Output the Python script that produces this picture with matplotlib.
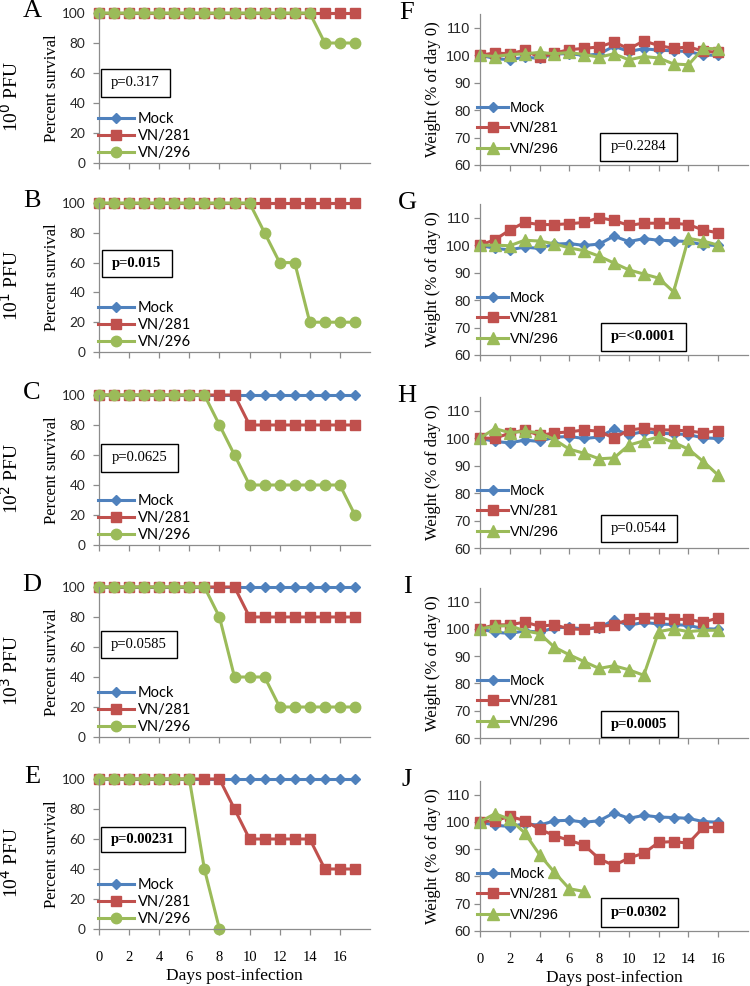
import matplotlib
matplotlib.use("Agg")
import matplotlib.pyplot as plt
from matplotlib.patches import Rectangle

# Data
days_surv = [0, 1, 2, 3, 4, 5, 6, 7, 8, 9, 10, 11, 12, 13, 14, 15, 16, 17]
days_wt = [0, 1, 2, 3, 4, 5, 6, 7, 8, 9, 10, 11, 12, 13, 14, 15, 16]

surv_mock = [100, 100, 100, 100, 100, 100, 100, 100, 100, 100, 100, 100, 100, 100, 100, 100, 100, 100]
surv_A_281 = [100, 100, 100, 100, 100, 100, 100, 100, 100, 100, 100, 100, 100, 100, 100, 100, 100, 100]
surv_A_296 = [100, 100, 100, 100, 100, 100, 100, 100, 100, 100, 100, 100, 100, 100, 100, 80, 80, 80]
surv_B_281 = [100, 100, 100, 100, 100, 100, 100, 100, 100, 100, 100, 100, 100, 100, 100, 100, 100, 100]
surv_B_296 = [100, 100, 100, 100, 100, 100, 100, 100, 100, 100, 100, 80, 60, 60, 20, 20, 20, 20]
surv_C_281 = [100, 100, 100, 100, 100, 100, 100, 100, 100, 100, 80, 80, 80, 80, 80, 80, 80, 80]
surv_C_296 = [100, 100, 100, 100, 100, 100, 100, 100, 80, 60, 40, 40, 40, 40, 40, 40, 40, 20]
surv_D_281 = [100, 100, 100, 100, 100, 100, 100, 100, 100, 100, 80, 80, 80, 80, 80, 80, 80, 80]
surv_D_296 = [100, 100, 100, 100, 100, 100, 100, 100, 80, 40, 40, 40, 20, 20, 20, 20, 20, 20]
surv_E_281 = [100, 100, 100, 100, 100, 100, 100, 100, 100, 80, 60, 60, 60, 60, 60, 40, 40, 40]
surv_E_296 = [100, 100, 100, 100, 100, 100, 100, 40, 0]

wt_mock = [100, 98.8, 98.3, 99.3, 98.8, 100.4, 100.6, 99.9, 100.4, 103.3, 101.3, 102.4, 101.8, 101.6, 101.3, 100.1, 99.9]
wt_F_281 = [100, 100.8, 100.5, 101.8, 99.2, 100.8, 102, 102.5, 103, 104.8, 102.3, 105.2, 103.5, 102.5, 103, 101.5, 101]
wt_F_296 = [100, 99.5, 100.2, 100.5, 101, 100.5, 101, 100.2, 99.3, 100.5, 98.3, 99.5, 99, 96.8, 96.5, 102.5, 102.3]
wt_G_281 = [100, 102, 105.5, 108.3, 107.5, 107.5, 107.8, 108.3, 110, 109, 107.2, 108, 108, 108, 107.5, 105.5, 104.5]
wt_G_296 = [100, 100, 99.8, 101.8, 101.5, 100.5, 99, 98, 96, 93.5, 91, 89.5, 88, 83, 102.5, 101.5, 100]
wt_H_281 = [100, 100, 101.8, 103, 101, 101.9, 102.3, 103, 102.5, 100, 103, 103.6, 103, 103, 102.6, 102, 102.7]
wt_H_296 = [100, 103.5, 102, 102.5, 102, 99.5, 96, 94.5, 92.5, 92.8, 97.5, 99, 100.5, 98.5, 96, 91.5, 86.5]
wt_I_281 = [100, 101.5, 101.5, 102.5, 101, 101.5, 100, 99.8, 100.8, 101.5, 103.5, 104, 104, 103.5, 103.5, 102.5, 104]
wt_I_296 = [100, 101, 101.2, 99.3, 98.3, 93.3, 90.5, 88, 85.5, 86.5, 85, 83, 99, 100, 99, 99.5, 99.5]
wt_J_281 = [100, 100.5, 102, 100.5, 97.3, 95, 93.2, 91.5, 86.5, 84, 86.8, 88.5, 92.5, 92.8, 92.2, 98, 98]
wt_J_296 = [100, 103, 101, 96, 88, 81.5, 75.5, 74.5]

doses = ["10$^0$ PFU", "10$^1$ PFU", "10$^2$ PFU", "10$^3$ PFU", "10$^4$ PFU"]
letters_left = ["A", "B", "C", "D", "E"]
letters_right = ["F", "G", "H", "I", "J"]
p_left = ["p=0.317", "p=0.015", "p=0.0625", "p=0.0585", "p=0.00231"]
p_left_bold = [False, True, False, False, True]
p_right = ["p=0.2284", "p=<0.0001", "p=0.0544", "p=0.0005", "p=0.0302"]
p_right_bold = [False, True, False, True, True]

surv_281 = [surv_A_281, surv_B_281, surv_C_281, surv_D_281, surv_E_281]
surv_296 = [surv_A_296, surv_B_296, surv_C_296, surv_D_296, surv_E_296]
wt_281 = [wt_F_281, wt_G_281, wt_H_281, wt_I_281, wt_J_281]
wt_296 = [wt_F_296, wt_G_296, wt_H_296, wt_I_296, wt_J_296]

# Styling
BLUE = "#4F81BD"
RED = "#C0504D"
GREEN = "#9BBB59"
AXCOL = "#8C8C8C"
SERIF = "Liberation Serif"

W, H = 750, 986
fig = plt.figure(figsize=(W / 100, H / 100), dpi=100)

# axes extents in pixels (top, bottom)
left_rows = [(13, 163), (203, 352), (395, 545), (587, 737), (779, 929)]
right_rows = [(14, 165), (204, 355), (397, 548), (588, 738), (781, 931)]
# p-value boxes in axes fraction (x0, x1, y0, y1)
left_boxes = [(0.007, 0.262, 0.44, 0.627), (0.011, 0.269, 0.503, 0.685),
              (0.007, 0.291, 0.487, 0.673), (0.007, 0.288, 0.527, 0.707),
              (0.007, 0.317, 0.513, 0.68)]
right_boxes = [(0.448, 0.735, 0.027, 0.212), (0.451, 0.769, 0.027, 0.212),
               (0.451, 0.735, 0.04, 0.219), (0.451, 0.739, 0.007, 0.179),
               (0.451, 0.739, 0.027, 0.219)]


def make_ax(x0, x1, top, bottom):
    return fig.add_axes([x0 / W, 1 - bottom / H, (x1 - x0) / W, (bottom - top) / H])


def style_ax(ax, tickfont, tickfs, ypad):
    for s in ["top", "right"]:
        ax.spines[s].set_visible(False)
    for s in ["left", "bottom"]:
        ax.spines[s].set_color(AXCOL)
        ax.spines[s].set_linewidth(0.9)
    ax.tick_params(direction="out", length=4, width=0.9, color=AXCOL)
    ax.tick_params(axis="y", pad=ypad, labelcolor="#262626")
    ax.tick_params(axis="x", pad=12)
    for lab in ax.get_yticklabels():
        lab.set_fontfamily(tickfont)
        lab.set_fontsize(tickfs)
    for lab in ax.get_xticklabels():
        lab.set_fontfamily(SERIF)
        lab.set_fontsize(10.5)


def p_box(ax, box, text, bold):
    x0, x1, y0, y1 = box
    ax.add_patch(Rectangle((x0, y0), x1 - x0, y1 - y0, transform=ax.transAxes,
                           facecolor="white", edgecolor="black", lw=1.0, zorder=5))
    ax.text((x0 + x1) / 2, (y0 + y1) / 2, text, transform=ax.transAxes,
            ha="center", va="center", fontfamily=SERIF, fontsize=10.5,
            fontweight="bold" if bold else "normal", zorder=6)


for i in range(5):
    # survival panel
    top, bot = left_rows[i]
    ax = make_ax(99, 370, top, bot)
    ax.plot(days_surv, surv_mock, color=BLUE, lw=2.2, marker="D", ms=5.5, label="Mock", clip_on=False)
    ax.plot(days_surv[:len(surv_281[i])], surv_281[i], color=RED, lw=2.2, marker="s", ms=7,
            label="VN/281", clip_on=False)
    ax.plot(days_surv[:len(surv_296[i])], surv_296[i], color=GREEN, lw=2.2, marker="o", ms=7.5,
            label="VN/296", clip_on=False)
    ax.set_xlim(0, 18)
    ax.set_ylim(0, 100)
    ax.set_xticks([0, 2, 4, 6, 8, 10, 12, 14, 16])
    ax.set_yticks([0, 20, 40, 60, 80, 100])
    if i < 4:
        ax.tick_params(labelbottom=False)
    style_ax(ax, "Lato", 9.8, 6)
    ax.set_ylabel("Percent survival", fontfamily=SERIF, fontsize=12, labelpad=1)
    ax.legend(loc="lower left", bbox_to_anchor=(-0.005, 0.02), frameon=False,
              borderaxespad=0, borderpad=0, handlelength=2.5, handletextpad=0.25,
              labelspacing=0.2, prop={"family": "Lato", "size": 10.5})
    p_box(ax, left_boxes[i], p_left[i], p_left_bold[i])
    fig.text(32 / W, 1 - (top - 2) / H, letters_left[i], fontfamily=SERIF, fontsize=19,
             ha="center", va="center")
    fig.text(11 / W, 1 - ((top + bot) / 2 + 8) / H, doses[i], fontfamily=SERIF, fontsize=14,
             rotation=90, ha="center", va="center")
    if i == 4:
        ax.set_xlabel("Days post-infection", fontfamily=SERIF, fontsize=12.5, labelpad=3)

    # weight panel
    top, bot = right_rows[i]
    ax = make_ax(480, 748, top, bot)
    ax.plot(days_wt, wt_mock, color=BLUE, lw=2.2, marker="D", ms=5.5, label="Mock", clip_on=False)
    ax.plot(days_wt[:len(wt_281[i])], wt_281[i], color=RED, lw=2.2, marker="s", ms=7,
            label="VN/281", clip_on=False)
    ax.plot(days_wt[:len(wt_296[i])], wt_296[i], color=GREEN, lw=2.2, marker="^", ms=8,
            label="VN/296", clip_on=False)
    ax.set_xlim(0, 18)
    ax.set_ylim(60, 115)
    ax.set_xticks([0, 2, 4, 6, 8, 10, 12, 14, 16])
    ax.set_yticks([60, 70, 80, 90, 100, 110])
    if i < 4:
        ax.tick_params(labelbottom=False)
    style_ax(ax, "Liberation Sans", 10.5, 3)
    ax.set_ylabel("Weight (% of day 0)", fontfamily=SERIF, fontsize=12, labelpad=3)
    ax.legend(loc="lower left", bbox_to_anchor=(-0.01, 0.06), frameon=False,
              borderaxespad=0, borderpad=0, handlelength=2.1, handletextpad=0.15,
              labelspacing=0.45, prop={"family": "Liberation Sans", "size": 10.5})
    p_box(ax, right_boxes[i], p_right[i], p_right_bold[i])
    fig.text(407 / W, 1 - (top - 1) / H, letters_right[i], fontfamily=SERIF, fontsize=19,
             ha="center", va="center")
    if i == 4:
        ax.set_xlabel("Days post-infection", fontfamily=SERIF, fontsize=12.5, labelpad=3)

fig.savefig("out.png", dpi=100)
